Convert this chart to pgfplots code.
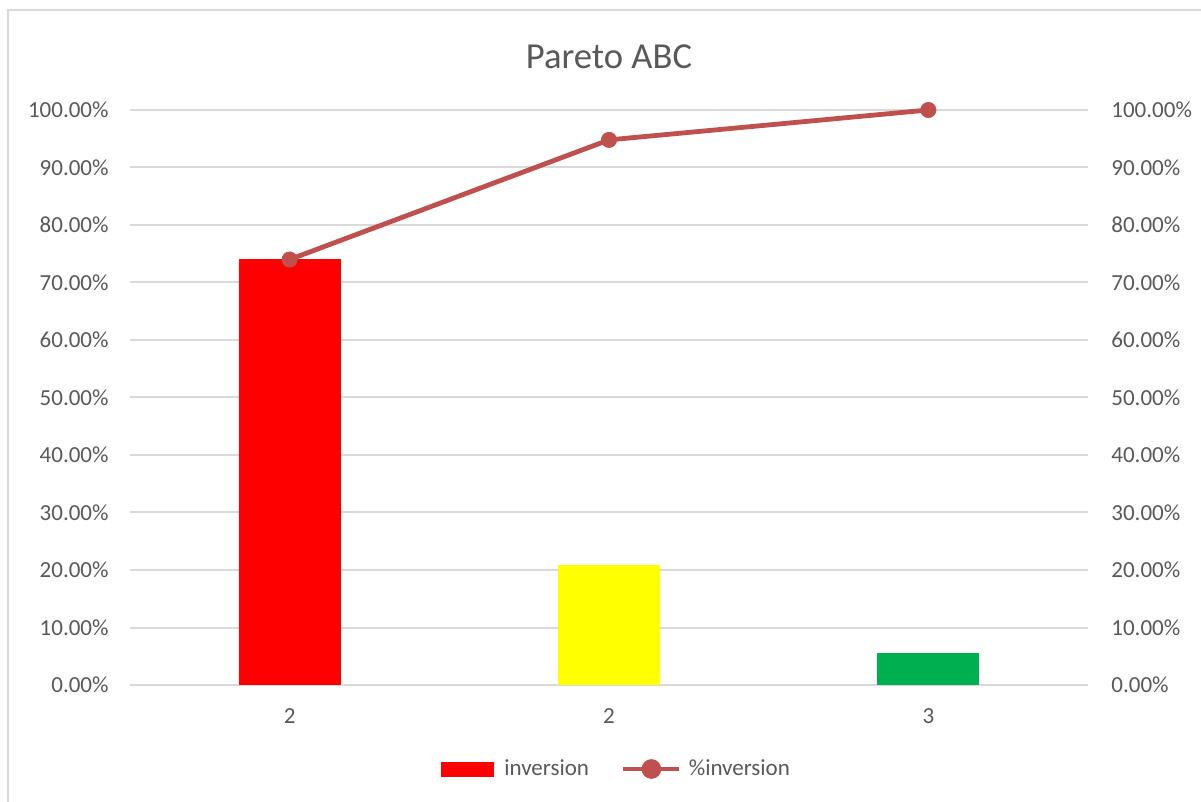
\documentclass[border=0pt]{standalone}
\usepackage{pgfplots}
\pgfplotsset{compat=1.18}
\usepackage{fontspec}
\setmainfont{Carlito}
\definecolor{txt}{HTML}{595959}
\definecolor{gridc}{HTML}{D9D9D9}
\definecolor{linec}{HTML}{C0504D}
\definecolor{barred}{HTML}{FF0000}
\definecolor{baryel}{HTML}{FFFF00}
\definecolor{bargrn}{HTML}{00B050}
\begin{document}
\begin{tikzpicture}
\pgfplotsset{
  common/.style={
    scale only axis, width=479pt, height=287.5pt,
    xmin=-0.5, xmax=2.5, ymin=0, ymax=100,
    ytick={0,10,...,100},
    major tick length=0pt,
    clip=false,
    /pgf/number format/assume math mode=true,
    yticklabel={\pgfmathprintnumber[fixed,fixed zerofill,precision=2]{\tick}\%},
    ticklabel style={font=\fontsize{11.5}{13}\selectfont, text=txt, inner sep=0pt},
  }
}
\begin{axis}[common,
  axis line style={draw=none},
  ymajorgrids, grid style={gridc, line width=1pt},
  xtick={0,1,2}, xticklabels={2,2,3},
  xticklabel style={yshift=-11.5pt},
  yticklabel style={xshift=-10.5pt},
  legend columns=2,
  legend style={at={(axis description cs:0.509,-0.1461)}, anchor=center, draw=none,
    font=\fontsize{11.5}{13}\selectfont, text=txt, inner sep=0pt,
    /tikz/every even column/.append style={column sep=14pt}},
  legend cell align=left,
]
\addplot[ybar, bar width=51pt, bar shift=0pt, fill=barred, draw=none,
  legend image code/.code={\fill[barred] (0pt,-3.75pt) rectangle (26.5pt,3.75pt);}]
  coordinates {(0,74.0)};
\addlegendentry{\hspace{3pt}inversion}
\addplot[ybar, bar width=51pt, bar shift=0pt, fill=baryel, draw=none, forget plot]
  coordinates {(1,20.8)};
\addplot[ybar, bar width=51pt, bar shift=0pt, fill=bargrn, draw=none, forget plot]
  coordinates {(2,5.5)};
\addplot[color=linec, line width=2.4pt, mark=*, mark size=3.8pt, mark options={fill=linec, draw=linec, line width=0.4pt},
  legend image code/.code={\draw[linec, line width=2.4pt] (0pt,0pt) -- (28pt,0pt); \fill[linec] (14pt,0pt) circle (3.7pt);}]
  coordinates {(0,74.0) (1,94.8) (2,100)};
\addlegendentry{\hspace{1.5pt}\%inversion}
\node[text=txt, font=\fontsize{18.3}{22}\selectfont, anchor=center] at (axis description cs:0.5,1.0922) {Pareto ABC};
\draw[gridc, line width=1pt] (axis description cs:-0.12735,-0.4) -- (axis description cs:-0.12735,1.17391) -- (axis description cs:1.3,1.17391);
\coordinate (bbSW) at (axis description cs:-0.1357,-0.20174);
\coordinate (bbNE) at (axis description cs:1.11795,1.19130);
\end{axis}
\begin{axis}[common,
  axis line style={draw=none},
  hide x axis,
  axis y line*=right,
  yticklabel style={xshift=11.5pt},
]
\addplot[draw=none, forget plot] coordinates {(0,0)};
\end{axis}
\pgfresetboundingbox
\useasboundingbox (bbSW) rectangle (bbNE);
\end{tikzpicture}
\end{document}
